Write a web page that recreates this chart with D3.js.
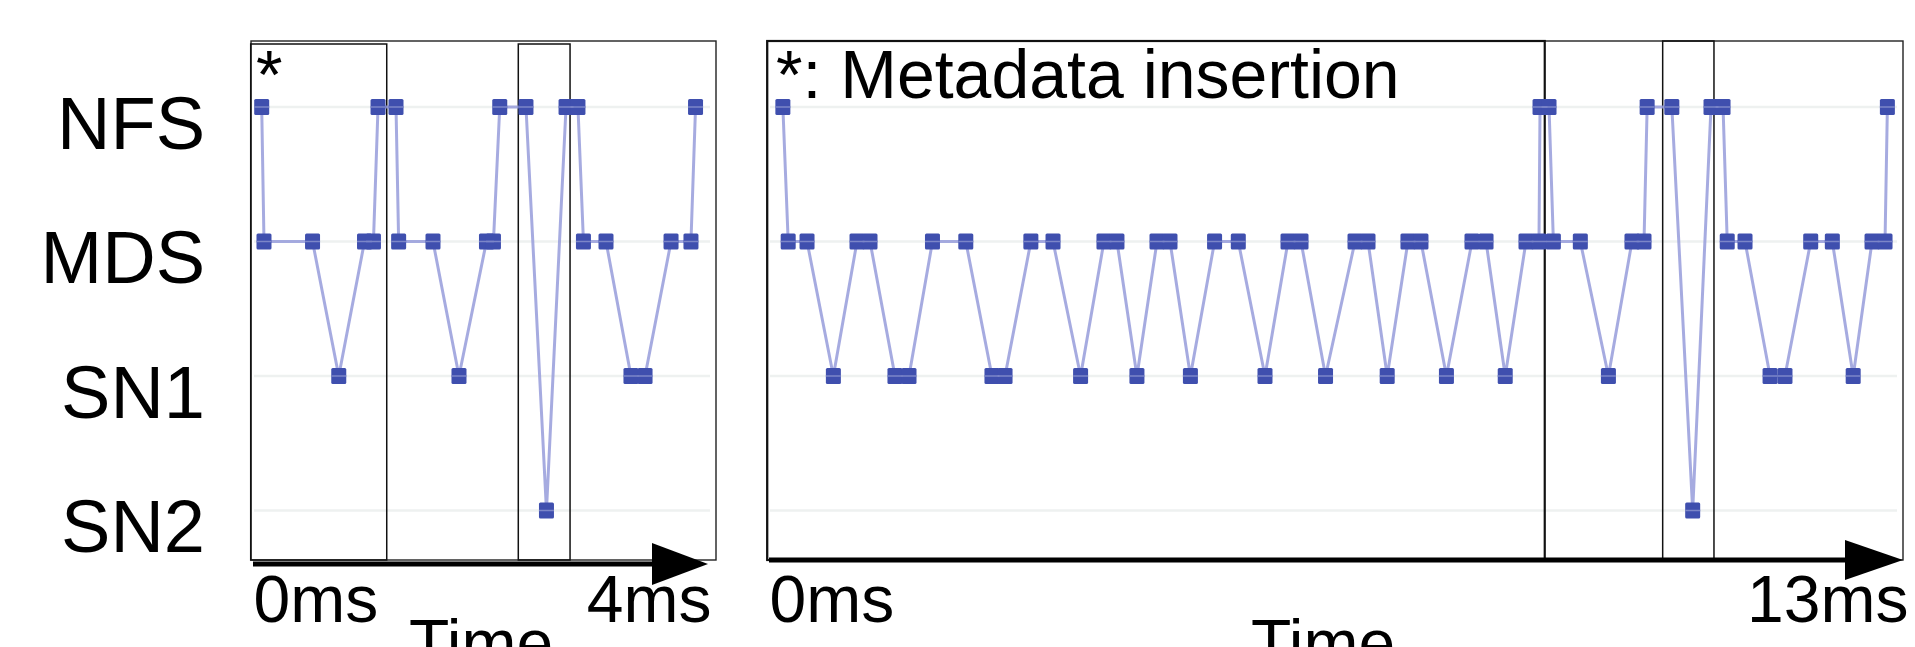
<!DOCTYPE html>
<html>
<head>
<meta charset="utf-8">
<script src="https://cdn.jsdelivr.net/npm/d3@7/dist/d3.min.js"></script>
<style>
  html, body { margin: 0; padding: 0; background: #fff; }
  svg { display: block; }
  text { font-family: "Liberation Sans", Arial, Helvetica, sans-serif; fill: #000; }
</style>
</head>
<body>
<div id="chart"></div>
<script>
// nodes visited by a request, top to bottom
var nodes = ["NFS", "MDS", "SN1", "SN2"];

// left trace: 0..4ms
var leftMaxMs = 4;
var leftTimes = [0.076, 0.096, 0.520, 0.749, 0.974, 1.052, 1.092, 1.249, 1.272, 1.572,
    1.799, 2.039, 2.100, 2.155, 2.384, 2.563, 2.734, 2.838, 2.886, 3.083,
    3.301, 3.424, 3.651, 3.825, 3.865];
var leftNodes = ["NFS", "MDS", "MDS", "SN1", "MDS", "MDS", "NFS", "NFS", "MDS", "MDS",
    "SN1", "MDS", "MDS", "NFS", "NFS", "SN2", "NFS", "NFS", "MDS", "MDS",
    "SN1", "SN1", "MDS", "MDS", "NFS"];
// highlighted spans (ms)
var leftBoxes = [[-0.02, 1.168], [2.317, 2.769]];

// right trace: 0..13ms
var rightMaxMs = 13;
var rightTimes = [0.159, 0.220, 0.436, 0.738, 1.009, 1.158, 1.444, 1.605, 1.874, 2.256,
    2.556, 2.706, 3.002, 3.256, 3.572, 3.840, 3.989, 4.218, 4.448, 4.597,
    4.831, 5.108, 5.380, 5.686, 5.950, 6.099, 6.380, 6.718, 6.867, 7.087,
    7.325, 7.474, 7.766, 8.059, 8.220, 8.440, 8.678, 8.827, 8.839, 8.942,
    8.992, 9.301, 9.623, 9.893, 10.031, 10.067, 10.350, 10.589, 10.799, 10.937,
    10.985, 11.189, 11.476, 11.647, 11.942, 12.190, 12.429, 12.645, 12.794, 12.821];
var rightNodes = ["NFS", "MDS", "MDS", "SN1", "MDS", "MDS", "SN1", "SN1", "MDS", "MDS",
    "SN1", "SN1", "MDS", "MDS", "SN1", "MDS", "MDS", "SN1", "MDS", "MDS",
    "SN1", "MDS", "MDS", "SN1", "MDS", "MDS", "SN1", "MDS", "MDS", "SN1",
    "MDS", "MDS", "SN1", "MDS", "MDS", "SN1", "MDS", "MDS", "NFS", "NFS",
    "MDS", "MDS", "SN1", "MDS", "MDS", "NFS", "NFS", "SN2", "NFS", "NFS",
    "MDS", "MDS", "SN1", "SN1", "MDS", "MDS", "SN1", "MDS", "MDS", "NFS"];
var rightBoxes = [[-0.02, 8.893], [10.245, 10.833]];

var width = 1915, height = 647;
var top_ = 41, bottom = 560;

var svg = d3.select("#chart")
    .append("svg")
    .attr("width", width)
    .attr("height", height);

// shared y scale
var y = d3.scalePoint()
    .domain(nodes)
    .range([107, 510.5]);

// y labels
var yAxis = svg.append("g")
    .attr("transform", "translate(205,0)")
    .call(d3.axisLeft(y).tickSize(0).tickPadding(0));
yAxis.select(".domain").remove();
yAxis.selectAll("text")
    .attr("x", 0)
    .attr("dy", 0)
    .attr("y", 41)
    .style("font-size", "74px")
    .style("font-family", "'Liberation Sans', Arial, sans-serif")
    .attr("fill", "#000");

function drawPanel(p) {
    var x = d3.scaleLinear()
        .domain([0, p.maxMs])
        .range([p.x0, p.x1]);

    var g = svg.append("g");

    // faint row guides
    g.selectAll("line.grid")
        .data(nodes)
        .enter()
        .append("line")
        .attr("x1", p.frameL + 3)
        .attr("x2", p.frameR - 6)
        .attr("y1", function(d) { return y(d); })
        .attr("y2", function(d) { return y(d); })
        .attr("stroke", "#eef1f0")
        .attr("stroke-width", 2.5);

    // outer frame
    g.append("rect")
        .attr("x", p.frameL)
        .attr("y", top_)
        .attr("width", p.frameR - p.frameL)
        .attr("height", bottom - top_)
        .attr("fill", "none")
        .attr("stroke", "#222")
        .attr("stroke-width", 1.4);

    // highlight boxes
    g.selectAll("rect.box")
        .data(p.boxes)
        .enter()
        .append("rect")
        .attr("x", function(d) { return x(d[0]); })
        .attr("y", top_ + p.boxInset)
        .attr("width", function(d) { return x(d[1]) - x(d[0]); })
        .attr("height", bottom - top_ - p.boxInset)
        .attr("fill", "none")
        .attr("stroke", "#111")
        .attr("stroke-width", function(d, i) { return i == 0 ? p.firstBoxW : 1.5; });

    var pts = p.times.map(function(t, i) { return {t: t, n: p.nodes[i]}; });

    // path between hops
    var line = d3.line()
        .x(function(d) { return x(d.t); })
        .y(function(d) { return y(d.n); });
    g.append("path")
        .datum(pts)
        .attr("d", line)
        .attr("fill", "none")
        .attr("stroke", "#979cda")
        .attr("stroke-width", 3)
        .attr("stroke-opacity", 0.85);

    // markers
    g.selectAll("rect.pt")
        .data(pts)
        .enter()
        .append("rect")
        .attr("x", function(d) { return x(d.t) - 7.5; })
        .attr("y", function(d) { return y(d.n) - 8; })
        .attr("width", 15)
        .attr("height", 16)
        .attr("rx", 1.5)
        .attr("fill", "#3f4fae");
    g.selectAll("line.pt")
        .data(pts)
        .enter()
        .append("line")
        .attr("x1", function(d) { return x(d.t) - 7.5; })
        .attr("x2", function(d) { return x(d.t) + 7.5; })
        .attr("y1", function(d) { return y(d.n); })
        .attr("y2", function(d) { return y(d.n); })
        .attr("stroke", "#7c86c8")
        .attr("stroke-width", 1.5);

    // time arrow
    g.append("line")
        .attr("x1", p.x0)
        .attr("x2", p.arrowBase + 5)
        .attr("y1", p.arrowY)
        .attr("y2", p.arrowY)
        .attr("stroke", "#000")
        .attr("stroke-width", 5);
    g.append("path")
        .attr("d", "M" + p.arrowBase + "," + (p.arrowY - p.arrowH) +
            "L" + p.arrowTip + "," + p.arrowY +
            "L" + p.arrowBase + "," + (p.arrowY + p.arrowH) + "Z")
        .attr("fill", "#000");

    // 0ms / end labels
    var xa = g.append("g")
        .attr("transform", "translate(0," + bottom + ")")
        .call(d3.axisBottom(x)
            .tickValues([0, p.maxMs])
            .tickSize(0)
            .tickPadding(0)
            .tickFormat(function(d) { return d + "ms"; }));
    xa.select(".domain").remove();
    xa.selectAll("text")
        .attr("y", 62)
        .attr("dy", 0)
        .attr("text-anchor", function(d, i) { return i == 0 ? "start" : "end"; })
        .attr("dx", function(d, i) { return i == 0 ? 0 : p.endDx; })
        .style("font-size", "66px")
        .style("font-family", "'Liberation Sans', Arial, sans-serif")
        .attr("fill", "#000");

    // axis title, clipped by the bottom edge as in the original figure
    g.append("text")
        .attr("x", p.timeX)
        .attr("y", 666)
        .attr("text-anchor", "middle")
        .style("font-size", "66px")
        .text("Time");

    g.append("text")
        .attr("x", p.noteX)
        .attr("y", 98)
        .style("font-size", "68px")
        .text(p.note);
}

drawPanel({
    times: leftTimes, nodes: leftNodes, boxes: leftBoxes, maxMs: leftMaxMs,
    x0: 253, x1: 711, frameL: 251, frameR: 716, boxInset: 3, firstBoxW: 1.5,
    arrowY: 564, arrowBase: 652, arrowTip: 708, arrowH: 21, endDx: 0,
    timeX: 481, noteX: 256, note: "*"
});

drawPanel({
    times: rightTimes, nodes: rightNodes, boxes: rightBoxes, maxMs: rightMaxMs,
    x0: 769, x1: 1903, frameL: 767, frameR: 1903, boxInset: 0, firstBoxW: 2.2,
    arrowY: 560, arrowBase: 1845, arrowTip: 1903, arrowH: 20, endDx: 5,
    timeX: 1323, noteX: 776, note: "*: Metadata insertion"
});
</script>
</body>
</html>
